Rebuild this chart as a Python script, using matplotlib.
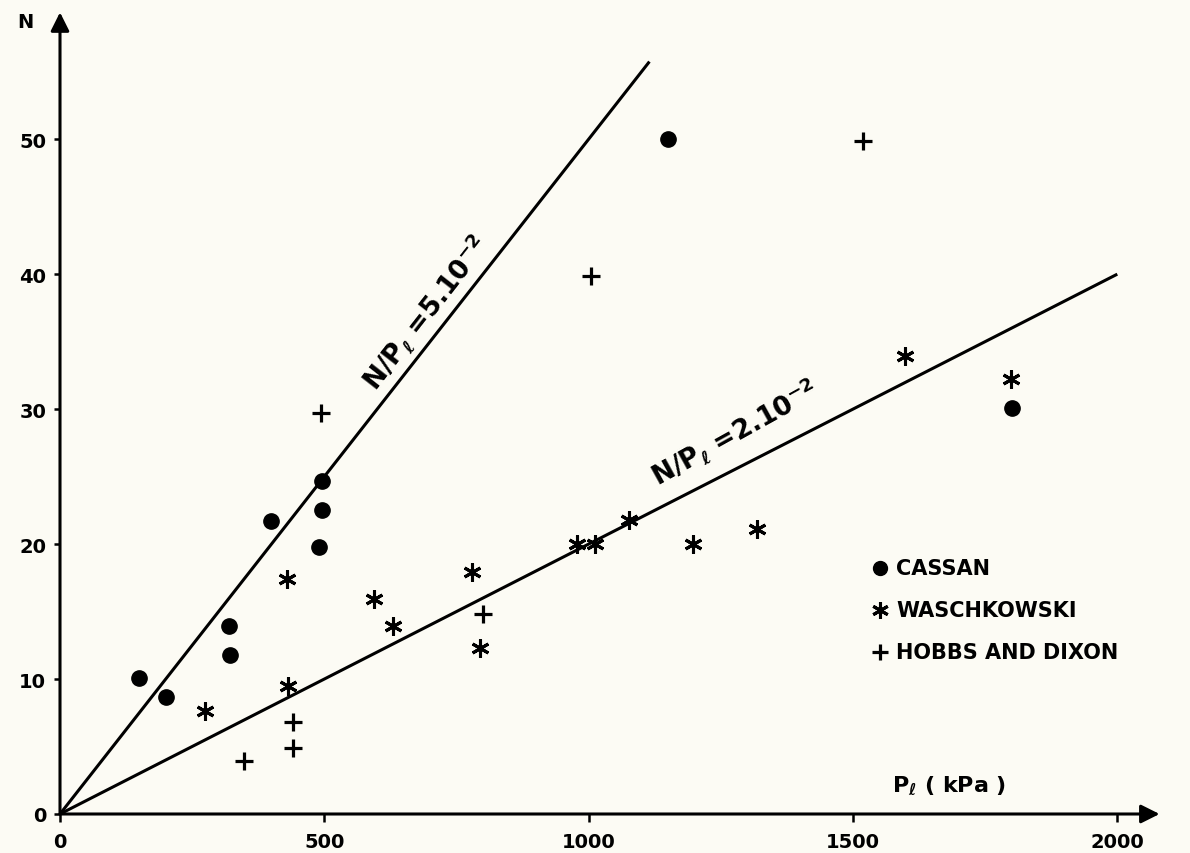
import numpy as np
import matplotlib
matplotlib.use("Agg")
import matplotlib.pyplot as plt

# values (Pl in kPa, N blow count)
cassan_pl = [150, 200, 320, 322, 400, 496, 496, 490, 1150, 1800]
cassan_n = [10.1, 8.7, 13.9, 11.8, 21.7, 24.7, 22.5, 19.8, 50, 30.1]

wasch_pl = [274, 430, 431, 594, 630, 780, 795, 978, 1012, 1077, 1198, 1319, 1599, 1799]
wasch_n = [7.6, 17.4, 9.5, 15.9, 13.9, 17.9, 12.3, 20, 20, 21.8, 20, 21.1, 33.9, 32.2]

hobbs_pl = [494, 1005, 1519, 800, 441, 441, 348]
hobbs_n = [29.7, 39.9, 49.9, 14.8, 6.8, 4.9, 3.9]

ratios = [5e-2, 2e-2]
line_ends = [1115, 2000]
line_labels = ["N/P$_\\ell$ =5.10$^{-2}$", "N/P$_\\ell$ =2.10$^{-2}$"]

xticks = [0, 500, 1000, 1500, 2000]
yticks = [0, 10, 20, 30, 40, 50]

bg = "#fcfbf4"
plt.rcParams["font.family"] = ["DejaVu Sans"]
plt.rcParams["font.weight"] = "bold"

fig = plt.figure(figsize=(11.9, 8.54), dpi=100, facecolor=bg)
ax = fig.add_axes([60 / 1190, 39 / 854, 1126 / 1190, 803 / 854], facecolor=bg)
ax.set_xlim(0, 2130)
ax.set_ylim(0, 59.5)
for s in ax.spines.values():
    s.set_visible(False)

# axes drawn as arrows
ax.annotate("", xy=(2080, 0), xytext=(0, 0),
            arrowprops=dict(arrowstyle="-|>", lw=2.2, color="black", mutation_scale=28,
                            shrinkA=0, shrinkB=0), annotation_clip=False)
ax.annotate("", xy=(0, 59.4), xytext=(0, 0),
            arrowprops=dict(arrowstyle="-|>", lw=2.2, color="black", mutation_scale=28,
                            shrinkA=0, shrinkB=0), annotation_clip=False)

ax.set_xticks(xticks)
ax.set_yticks(yticks)
ax.set_xticklabels([str(v) for v in xticks])
ax.set_yticklabels([str(v) for v in yticks])
ax.tick_params(axis="x", direction="out", length=6, width=1.8, pad=7, labelsize=14)
ax.tick_params(axis="y", direction="out", length=4, width=1.8, pad=6, labelsize=14)

# reference lines N/Pl = const
for r, xe in zip(ratios, line_ends):
    xs = np.array([0, xe])
    ax.plot(xs, r * xs, color="black", lw=2.2, solid_capstyle="butt", clip_on=False)
ax.text(692, 37.2, line_labels[0], rotation=52, ha="center", va="center", fontsize=19)
ax.text(1275, 28.3, line_labels[1], rotation=29, ha="center", va="center", fontsize=19)

ax.plot(cassan_pl, cassan_n, "o", color="black", ms=11, clip_on=False)
ax.plot(wasch_pl, wasch_n, marker=(6, 2, 0), ls="none", color="black", ms=13, mew=2.2)
ax.plot(hobbs_pl, hobbs_n, "+", color="black", ms=13, mew=2.3)

# legend, drawn by hand like the original lettering
leg_names = ["CASSAN", "WASCHKOWSKI", "HOBBS AND DIXON"]
leg_y = [18.2, 15.1, 12.0]
ax.plot([1552], [leg_y[0]], "o", color="black", ms=10)
ax.plot([1552], [leg_y[1]], marker=(6, 2, 0), ls="none", color="black", ms=12, mew=2.2)
ax.plot([1552], [leg_y[2]], "+", color="black", ms=12, mew=2.3)
for name, yy in zip(leg_names, leg_y):
    ax.text(1582, yy, name, ha="left", va="center", fontsize=15)

ax.text(1682, 2.2, "P$_\\ell$ ( kPa )", ha="center", va="center", fontsize=16)
fig.text(25 / 1190, 1 - 23 / 854, "N", ha="center", va="center", fontsize=14)

fig.savefig("out.png", dpi=100, facecolor=bg)
